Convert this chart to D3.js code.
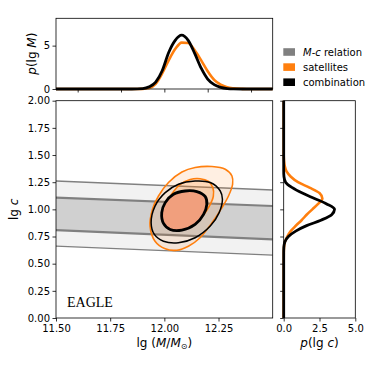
<!DOCTYPE html>
<html>
<head>
<meta charset="utf-8">
<script src="https://cdn.jsdelivr.net/npm/d3@7"></script>
<style>
  body { margin: 0; background: #fff; }
  svg { display: block; }
  text { font-family: "DejaVu Sans", sans-serif; }
  .axis path, .axis line { stroke: #000; stroke-width: 0.8; }
  .axis text { font-size: 10px; fill: #000; }
</style>
</head>
<body>
<div id="chart-area"></div>
<script>

// ---- data ----
var relationM = [11.5, 12.5]
var innerUpper = [1.108, 1.031]
var innerLower = [0.809, 0.723]
var outerUpper = [1.261, 1.178]
var outerLower = [0.661, 0.578]

// contours [lgM, lgc]
var sat2sigma = [[11.934, 0.846], [11.945, 1.000], [11.973, 1.123], [12.019, 1.247], [12.081, 1.344],
  [12.142, 1.385], [12.220, 1.394], [12.281, 1.369], [12.312, 1.307], [12.315, 1.231],
  [12.296, 1.123], [12.266, 1.016], [12.220, 0.877], [12.165, 0.739], [12.111, 0.661],
  [12.058, 0.624], [12.004, 0.637], [11.957, 0.707]]
var sat1sigma = [[11.994, 0.963], [12.008, 1.055], [12.036, 1.146], [12.073, 1.229], [12.119, 1.275],
  [12.165, 1.282], [12.202, 1.259], [12.224, 1.200], [12.226, 1.120], [12.207, 1.028],
  [12.175, 0.935], [12.138, 0.862], [12.082, 0.815], [12.027, 0.824], [11.999, 0.880]]
var comb2sigma = [[11.939, 0.877], [11.957, 1.030], [12.004, 1.154], [12.065, 1.231], [12.142, 1.261],
  [12.212, 1.247], [12.258, 1.169], [12.268, 1.092], [12.253, 0.970], [12.212, 0.846],
  [12.142, 0.739], [12.065, 0.693], [11.996, 0.707], [11.954, 0.769]]
var comb1sigma = [[11.988, 0.970], [12.004, 1.062], [12.042, 1.139], [12.096, 1.169], [12.150, 1.163],
  [12.189, 1.117], [12.196, 1.046], [12.181, 0.954], [12.142, 0.861], [12.081, 0.809],
  [12.027, 0.815], [11.996, 0.871]]

// marginal p(lg M)
var gridM = [11.50, 11.85, 11.90, 11.93, 11.96, 11.99, 12.02, 12.05, 12.08, 12.11, 12.14, 12.17,
  12.20, 12.23, 12.26, 12.29, 12.32, 12.36, 12.40, 12.50]
var pM_sat = [0, 0, 0.02, 0.12, 0.6, 1.8, 3.3, 4.6, 5.35, 5.3, 4.45, 3.3,
  2.05, 1.05, 0.5, 0.2, 0.08, 0.02, 0, 0]
var pM_comb = [0, 0, 0.05, 0.25, 0.8, 2.1, 4.2, 5.6, 6.2, 5.6, 4.1, 2.4,
  1.15, 0.5, 0.18, 0.05, 0.01, 0, 0, 0]

// marginal p(lg c)
var gridC = [0, 0.5, 0.6, 0.65, 0.7, 0.75, 0.8, 0.85, 0.9, 0.95, 1.0, 1.05, 1.1, 1.15,
  1.2, 1.25, 1.3, 1.35, 1.4, 1.45, 1.5, 2.0]
var pC_sat = [0, 0, 0.005, 0.02, 0.08, 0.25, 0.49, 0.85, 1.25, 1.6, 2.0, 2.4, 2.7, 2.5,
  1.8, 1.0, 0.5, 0.2, 0.07, 0.02, 0, 0]
var pC_comb = [0, 0, 0, 0.01, 0.08, 0.33, 0.84, 1.6, 2.6, 3.35, 3.55, 3.0, 2.15, 1.3,
  0.6, 0.13, 0.02, 0, 0, 0, 0, 0]

var mainTicksX = [11.5, 11.75, 12.0, 12.25]
var topTicksX = [11.6, 11.8, 12.0, 12.2, 12.4]
var ticksC = [0, 0.25, 0.5, 0.75, 1.0, 1.25, 1.5, 1.75, 2.0]
var topTicksY = [0, 5]
var rightTicksX = [0, 2.5, 5]

var legendLabels = ["M-c relation", "satellites", "combination"]
var legendColors = ["#808080", "#ff7f0e", "#000000"]

// ---- layout ----
var W = 374, H = 374
var main = { left: 56, right: 272.7, top: 100.7, bottom: 318 }
var topP = { top: 18.3, bottom: 89 }
var rightP = { left: 283.7, right: 355.3 }

var svg = d3.select("#chart-area").append("svg")
  .attr("width", W)
  .attr("height", H)

var x = d3.scaleLinear().domain([11.5, 12.5]).range([main.left, main.right])
var y = d3.scaleLinear().domain([0, 2]).range([main.bottom, main.top])
var yTop = d3.scaleLinear().domain([0, 8.15]).range([topP.bottom, topP.top])
var xRight = d3.scaleLinear().domain([0, 5]).range([rightP.left, rightP.right])

svg.append("defs").append("clipPath").attr("id", "clipMain")
  .append("rect")
    .attr("x", main.left).attr("y", main.top)
    .attr("width", main.right - main.left).attr("height", main.bottom - main.top)

var g = svg.append("g").attr("clip-path", "url(#clipMain)")

// bands
function band(upper, lower) {
  var pts = relationM.map(function(m, i) { return [x(m), y(upper[i])] })
  relationM.slice().reverse().forEach(function(m, i) {
    pts.push([x(m), y(lower[lower.length - 1 - i])])
  })
  return "M" + pts.join("L") + "Z"
}
g.append("path").attr("d", band(outerUpper, outerLower)).attr("fill", "#808080").attr("fill-opacity", 0.1)
g.append("path").attr("d", band(innerUpper, innerLower)).attr("fill", "#808080").attr("fill-opacity", 0.3)

var edge = d3.line().x(function(d) { return x(d[0]) }).y(function(d) { return y(d[1]) })
;[outerUpper, outerLower].forEach(function(arr) {
  g.append("path").attr("d", edge(relationM.map(function(m, i) { return [m, arr[i]] })))
    .attr("fill", "none").attr("stroke", "#808080").attr("stroke-width", 1.3)
})
;[innerUpper, innerLower].forEach(function(arr) {
  g.append("path").attr("d", edge(relationM.map(function(m, i) { return [m, arr[i]] })))
    .attr("fill", "none").attr("stroke", "#808080").attr("stroke-width", 2.2)
})

// contours
var contourLine = d3.line()
  .x(function(d) { return x(d[0]) })
  .y(function(d) { return y(d[1]) })
  .curve(d3.curveCatmullRomClosed.alpha(0.5))

g.append("path").attr("d", contourLine(sat2sigma))
  .attr("fill", "#ff7f0e").attr("fill-opacity", 0.12)
  .attr("stroke", "#ff7f0e").attr("stroke-width", 1.6)
g.append("path").attr("d", contourLine(sat1sigma))
  .attr("fill", "#ff7f0e").attr("fill-opacity", 0.2)
  .attr("stroke", "#ff7f0e").attr("stroke-width", 1.6)
g.append("path").attr("d", contourLine(comb1sigma))
  .attr("fill", "#f19f7d")
g.append("path").attr("d", contourLine(comb2sigma))
  .attr("fill", "none").attr("stroke", "#000").attr("stroke-width", 1.5)
g.append("path").attr("d", contourLine(comb1sigma))
  .attr("fill", "none").attr("stroke", "#000").attr("stroke-width", 2.8)

svg.append("text")
  .attr("x", 67).attr("y", 306.5)
  .style("font-family", "'Liberation Serif', serif")
  .style("font-size", "14px")
  .text("EAGLE")

// top marginal
var lineTop = d3.line()
  .x(function(d) { return x(d[0]) })
  .y(function(d) { return yTop(d[1]) })
  .curve(d3.curveMonotoneX)
svg.append("path").attr("d", lineTop(gridM.map(function(m, i) { return [m, pM_sat[i]] })))
  .attr("fill", "none").attr("stroke", "#ff7f0e").attr("stroke-width", 2.6)
svg.append("path").attr("d", lineTop(gridM.map(function(m, i) { return [m, pM_comb[i]] })))
  .attr("fill", "none").attr("stroke", "#000").attr("stroke-width", 2.8)

// right marginal
var lineRight = d3.line()
  .x(function(d) { return xRight(d[1]) })
  .y(function(d) { return y(d[0]) })
  .curve(d3.curveMonotoneY)
svg.append("path").attr("d", lineRight(gridC.map(function(c, i) { return [c, pC_sat[i]] })))
  .attr("fill", "none").attr("stroke", "#ff7f0e").attr("stroke-width", 2.6)
svg.append("path").attr("d", lineRight(gridC.map(function(c, i) { return [c, pC_comb[i]] })))
  .attr("fill", "none").attr("stroke", "#000").attr("stroke-width", 2.8)

// frames
function frame(x0, y0, x1, y1) {
  svg.append("rect").attr("x", x0).attr("y", y0).attr("width", x1 - x0).attr("height", y1 - y0)
    .attr("fill", "none").attr("stroke", "#000").attr("stroke-width", 0.8)
}
frame(main.left, main.top, main.right, main.bottom)
frame(main.left, topP.top, main.right, topP.bottom)
frame(rightP.left, main.top, rightP.right, main.bottom)

// axes
function noDomain(sel) { sel.select(".domain").remove() }

svg.append("g").attr("class", "axis")
  .attr("transform", "translate(0," + main.bottom + ")")
  .call(d3.axisBottom(x).tickValues(mainTicksX).tickFormat(d3.format(".2f")).tickSize(3.5).tickPadding(3.5))
  .call(noDomain)
svg.append("g").attr("class", "axis")
  .attr("transform", "translate(" + main.left + ",0)")
  .call(d3.axisLeft(y).tickValues(ticksC).tickFormat(d3.format(".2f")).tickSize(3.5).tickPadding(2.5))
  .call(noDomain)

svg.append("g").attr("class", "axis")
  .attr("transform", "translate(0," + topP.bottom + ")")
  .call(d3.axisBottom(x).tickValues(topTicksX).tickFormat("").tickSize(3.5))
  .call(noDomain)
svg.append("g").attr("class", "axis")
  .attr("transform", "translate(" + main.left + ",0)")
  .call(d3.axisLeft(yTop).tickValues(topTicksY).tickFormat(d3.format("d")).tickSize(3.5).tickPadding(2.5))
  .call(noDomain)

svg.append("g").attr("class", "axis")
  .attr("transform", "translate(0," + main.bottom + ")")
  .call(d3.axisBottom(xRight).tickValues(rightTicksX).tickFormat(d3.format(".1f")).tickSize(3.5).tickPadding(3.5))
  .call(noDomain)
svg.append("g").attr("class", "axis")
  .attr("transform", "translate(" + rightP.left + ",0)")
  .call(d3.axisLeft(y).tickValues(ticksC).tickFormat("").tickSize(3.5))
  .call(noDomain)

// axis labels
var xl = svg.append("text")
  .attr("x", (main.left + main.right) / 2).attr("y", 347)
  .attr("text-anchor", "middle").style("font-size", "12px")
xl.append("tspan").text("lg (")
xl.append("tspan").style("font-style", "italic").text("M")
xl.append("tspan").text("/")
xl.append("tspan").style("font-style", "italic").text("M")
xl.append("tspan").attr("dy", 2).style("font-size", "8px").text("⊙")
xl.append("tspan").attr("dy", -2).text(")")

var rl = svg.append("text")
  .attr("x", (rightP.left + rightP.right) / 2).attr("y", 347)
  .attr("text-anchor", "middle").style("font-size", "12px")
rl.append("tspan").style("font-style", "italic").text("p")
rl.append("tspan").text("(lg ")
rl.append("tspan").style("font-style", "italic").text("c")
rl.append("tspan").text(")")

var yl = svg.append("text")
  .attr("transform", "translate(17.5," + (main.top + main.bottom) / 2 + ") rotate(-90)")
  .attr("text-anchor", "middle").style("font-size", "12px")
yl.append("tspan").text("lg ")
yl.append("tspan").style("font-style", "italic").text("c")

var tl = svg.append("text")
  .attr("transform", "translate(36," + (topP.top + topP.bottom) / 2 + ") rotate(-90)")
  .attr("text-anchor", "middle").style("font-size", "12px")
tl.append("tspan").style("font-style", "italic").text("p")
tl.append("tspan").text("(lg ")
tl.append("tspan").style("font-style", "italic").text("M")
tl.append("tspan").text(")")

// legend
var leg = svg.append("g")
legendLabels.forEach(function(lab, i) {
  var cy = 52 + i * 15.1
  leg.append("rect").attr("x", 283.3).attr("y", cy - 3.8).attr("width", 11.7).attr("height", 7.6)
    .attr("fill", legendColors[i])
  var t = leg.append("text").attr("x", 303).attr("y", cy + 3.6).style("font-size", "10px")
  if (i === 0) {
    t.append("tspan").style("font-style", "italic").text("M")
    t.append("tspan").text("-")
    t.append("tspan").style("font-style", "italic").text("c")
    t.append("tspan").text(" relation")
  } else {
    t.text(lab)
  }
})

</script>
</body>
</html>
